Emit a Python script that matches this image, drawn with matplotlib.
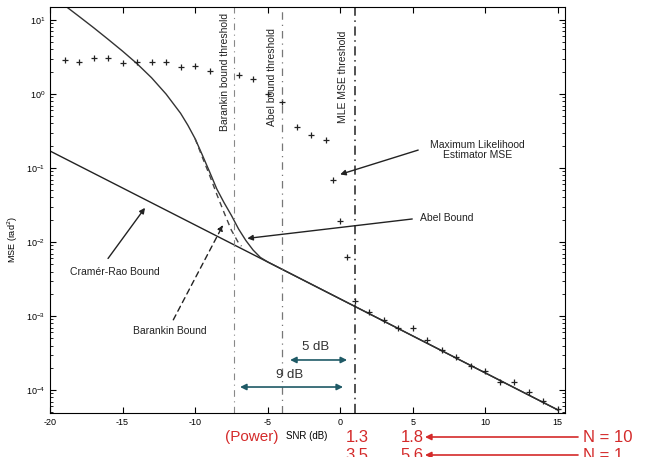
import matplotlib
matplotlib.use("Agg")
import matplotlib.pyplot as plt

# Cramer-Rao bound (straight line on the log plot, endpoints)
crb_snr = [-20, 15]
crb_mse = [0.17, 5.4e-5]

# Abel bound (solid), merges with CRB
abel_snr = [-19, -18, -17, -16, -15, -14, -13, -12, -11, -10.5, -10, -9.5, -9, -8.5, -8,
            -7.5, -7, -6.5, -6, -5.5, -5, 15]
abel_mse = [15.8, 11.2, 7.9, 5.5, 3.8, 2.57, 1.66, 1.0, 0.55, 0.38, 0.25, 0.15, 0.089,
            0.052, 0.034, 0.023, 0.015, 0.0105, 0.0078, 0.0062, 0.0054, 5.4e-5]

# Barankin bound (dashed), slightly left of Abel near threshold
bar_snr = [-10, -9.5, -9, -8.5, -8, -7.5, -7, -6.8]
bar_mse = [0.25, 0.14, 0.08, 0.044, 0.025, 0.0145, 0.0097, 0.0088]

# MLE simulated MSE
mle_snr = [-19, -18, -17, -16, -15, -14, -13, -12, -11, -10, -9, -7, -6, -5, -4,
           -3, -2, -1, -0.5, 0, 0.5, 1, 2, 3, 4, 5, 6, 7, 8, 9, 10, 11, 12, 13, 14, 15]
mle_mse = [2.9, 2.7, 3.1, 3.1, 2.6, 2.7, 2.7, 2.7, 2.3, 2.4, 2.05, 1.8, 1.6, 1.0, 0.78,
           0.36, 0.28, 0.24, 0.069, 0.019, 0.0063, 0.0016, 0.00113, 0.00088, 0.00069,
           0.00069, 0.00047, 0.00035, 0.00028, 0.00021, 0.00018, 0.00013, 0.00013,
           9.4e-5, 7.1e-5, 5.5e-5]

# thresholds (dB)
thr_barankin = -7.3
thr_abel = -4.0
thr_mle = 1.0

plt.rcParams["font.family"] = ["Liberation Sans", "DejaVu Sans"]
plt.rcParams["axes.unicode_minus"] = False

fig = plt.figure(figsize=(6.49, 4.57), dpi=100)
ax = fig.add_axes([50 / 649, 44 / 457, 515 / 649, 406 / 457])
ax.set_yscale("log")

ax.plot(crb_snr, crb_mse, color="#222222", lw=1.0)
ax.plot(abel_snr, abel_mse, color="#333333", lw=1.0)
ax.plot(bar_snr, bar_mse, color="#444444", lw=1.0, ls=(0, (4, 3)))
ax.plot(mle_snr, mle_mse, ls="none", marker="+", ms=5, mew=0.9, color="#222222")

ax.axvline(thr_barankin, color="#888888", lw=0.8, ls=(0, (6, 4, 1, 4)))
ax.axvline(thr_abel, color="#777777", lw=0.9, ls=(0, (6, 4, 1, 4)))
ax.axvline(thr_mle, color="#222222", lw=1.1, ls=(0, (6, 3, 1, 3)))

ax.set_xlim(-20, 15.5)
ax.set_ylim(4.9e-5, 15)
ax.set_xticks([-20, -15, -10, -5, 0, 5, 10, 15])
ax.tick_params(which="both", direction="in", top=True, right=True, labelsize=6.5)
ax.tick_params(which="major", length=4)
ax.tick_params(which="minor", length=2)

txt = dict(fontsize=7.5, color="#222222")
ax.text(-7.93, 12.4, "Barankin bound threshold", rotation=90, ha="center", va="top", **txt)
ax.text(-4.69, 7.8, "Abel bound threshold", rotation=90, ha="center", va="top", **txt)
ax.text(0.21, 7.3, "MLE MSE threshold", rotation=90, ha="center", va="top", **txt)

arr = dict(arrowstyle="-|>", color="#222222", lw=1.0, mutation_scale=8,
           shrinkA=0, shrinkB=0)
ax.annotate("", xy=(0.0, 0.082), xytext=(5.38, 0.175), arrowprops=arr)
ax.text(9.45, 0.175, "Maximum Likelihood\nEstimator MSE", ha="center", va="center",
        linespacing=1.1, **txt)
ax.annotate("", xy=(-6.4, 0.0112), xytext=(4.97, 0.0205), arrowprops=arr)
ax.text(5.5, 0.021, "Abel Bound", ha="left", va="center", **txt)
ax.annotate("", xy=(-13.45, 0.029), xytext=(-16.0, 0.006), arrowprops=arr)
ax.text(-18.6, 0.0039, "Cramér-Rao Bound", ha="left", va="center", **txt)
ax.annotate("", xy=(-8.07, 0.017), xytext=(-11.5, 0.00089),
            arrowprops=dict(arr, ls=(0, (4, 3))))
ax.text(-14.3, 0.00063, "Barankin Bound", ha="left", va="center", **txt)

db = dict(arrowstyle="<|-|>", color="#1f5a66", lw=1.2, mutation_scale=9,
          shrinkA=0, shrinkB=0)
ax.annotate("", xy=(0.48, 2.55e-4), xytext=(-3.45, 2.55e-4), arrowprops=db)
ax.text(-1.72, 3.8e-4, "5 dB", ha="center", va="center", fontsize=9.5, color="#333333")
ax.annotate("", xy=(0.2, 1.1e-4), xytext=(-6.9, 1.1e-4), arrowprops=db)
ax.text(-3.45, 1.6e-4, "9 dB", ha="center", va="center", fontsize=9.5, color="#333333")

fig.text(0.02, 0.475, "MSE (rad$^2$)", rotation=90, ha="center", va="center",
         fontsize=6.5)

red = "#d42a2a"
fig.text(252 / 649, 1 - 437 / 457, "(Power)", color=red, fontsize=11,
         ha="center", va="center")
fig.text(307 / 649, 1 - 436 / 457, "SNR (dB)", fontsize=7, ha="center", va="center")
rows = [(437, "1.3", "1.8", "N = 10"), (455, "3.5", "5.6", "N = 1")]
for py, a, b, n in rows:
    y = 1 - py / 457
    fig.text(357 / 649, y, a, color=red, fontsize=12, ha="center", va="center")
    fig.text(412 / 649, y, b, color=red, fontsize=12, ha="center", va="center")
    fig.text(583 / 649, y, n, color=red, fontsize=12, ha="left", va="center")
    ax.annotate("", xy=(425 / 649, y), xytext=(578 / 649, y),
                xycoords="figure fraction", textcoords="figure fraction",
                annotation_clip=False,
                arrowprops=dict(arrowstyle="-|>", color=red, lw=1.2,
                                mutation_scale=9, shrinkA=0, shrinkB=0))

fig.savefig("out.png", dpi=100)
